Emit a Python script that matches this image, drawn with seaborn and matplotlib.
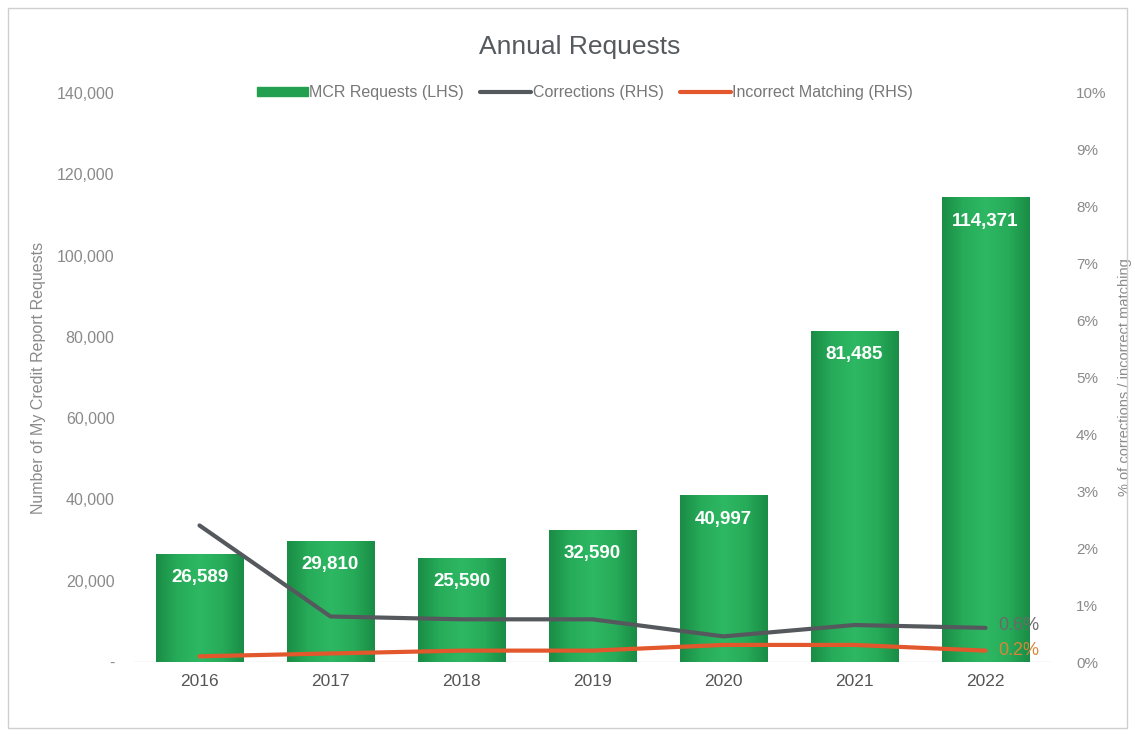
import numpy as np
import pandas as pd
import matplotlib
matplotlib.use("Agg")
import matplotlib.pyplot as plt
import seaborn as sns
from matplotlib.patches import Rectangle, Patch
from matplotlib.lines import Line2D
from matplotlib.colors import LinearSegmentedColormap

years = ["2016", "2017", "2018", "2019", "2020", "2021", "2022"]
requests = [26589, 29810, 25590, 32590, 40997, 81485, 114371]
corrections = [2.4, 0.8, 0.75, 0.75, 0.45, 0.65, 0.6]
incorrect = [0.1, 0.15, 0.2, 0.2, 0.3, 0.3, 0.2]
left_ticks = [0, 20000, 40000, 60000, 80000, 100000, 120000, 140000]
right_ticks = [0, 1, 2, 3, 4, 5, 6, 7, 8, 9, 10]

sns.set_theme(style="white")
plt.rcParams['font.family'] = ['Liberation Sans', 'DejaVu Sans']

tick_col = "#8a8a8a"
fig = plt.figure(figsize=(11.35, 7.36), dpi=100)
ax = fig.add_axes([134/1135, 1-662/736, (1051-134)/1135, (662-93)/736])

df = pd.DataFrame({"year": years, "requests": requests})
sns.barplot(data=df, x="year", y="requests", ax=ax, color="#22a050", width=0.67,
            saturation=1)

cmap = LinearSegmentedColormap.from_list("g", ["#1a8c45", "#27ac5a", "#2eb863", "#27ac5a", "#1a8c45"])
grad = np.linspace(0, 1, 256).reshape(1, -1)
for p in ax.patches:
    x0, y0 = p.get_x(), p.get_y()
    w, h = p.get_width(), p.get_height()
    im = ax.imshow(grad, cmap=cmap, extent=[x0, x0 + w, y0, y0 + h], aspect="auto", zorder=2)
    im.set_clip_path(p)
    p.set_facecolor("none")
    p.set_edgecolor("none")

ax.set_xlim(-0.5, len(years) - 0.5)
ax.set_ylim(0, 140000)
ax.set_yticks(left_ticks)
ax.set_yticklabels(["-" if v == 0 else f"{v:,}" for v in left_ticks])
ax.tick_params(axis="y", colors=tick_col, labelsize=11.5, length=0, pad=14)
ax.tick_params(axis="x", colors="#555555", labelsize=12.5, length=0, pad=9)
for lbl in ax.get_xticklabels():
    lbl.set_color("#555555")
ax.set_xlabel("")
ax.set_ylabel("Number of My Credit Report Requests", color=tick_col, fontsize=11.5, labelpad=8)
for s in ax.spines.values():
    s.set_visible(False)
ax.axhline(0, color="#d9d9d9", lw=1, zorder=1)

for i, v in enumerate(requests):
    ax.text(i, v - 3800, f"{v:,}", ha="center", va="top", color="white",
            fontsize=13.5, fontweight="bold", zorder=5)

ax2 = ax.twinx()
sns.lineplot(x=np.arange(len(years)), y=corrections, ax=ax2, color="#55595d", lw=3,
             label="Corrections (RHS)", legend=False)
sns.lineplot(x=np.arange(len(years)), y=incorrect, ax=ax2, color="#e2572c", lw=3,
             label="Incorrect Matching (RHS)", legend=False)
ax2.set_ylim(0, 10)
ax2.set_yticks(right_ticks)
ax2.set_yticklabels([f"{v}%" for v in right_ticks])
ax2.tick_params(axis="y", colors=tick_col, labelsize=11, length=0, pad=18)
ax2.set_ylabel("% of corrections / incorrect matching", color=tick_col, fontsize=10.5, labelpad=8)
for s in ax2.spines.values():
    s.set_visible(False)
ax2.set_xlim(-0.5, len(years) - 0.5)

n = len(years) - 1
ax2.text(n + 0.1, corrections[-1] + 0.05, f"{corrections[-1]:.1f}%", color="#6a6a6a",
         fontsize=13, va="center", ha="left")
ax2.text(n + 0.1, incorrect[-1], f"{incorrect[-1]:.1f}%", color="#d4873a",
         fontsize=13, va="center", ha="left")

handles = [Patch(color="#22a050"),
           Line2D([0], [0], color="#55595d", lw=3),
           Line2D([0], [0], color="#e2572c", lw=3)]
labels = ["MCR Requests (LHS)", "Corrections (RHS)", "Incorrect Matching (RHS)"]
leg = fig.legend(handles, labels, loc="center", bbox_to_anchor=(585/1135, 1-93/736), ncol=3,
                 frameon=False, fontsize=11.5, handlelength=3.2, handletextpad=0.1,
                 columnspacing=1.0, handleheight=0.5)
for t in leg.get_texts():
    t.set_color("#777777")

fig.text(580/1135, 1-47/736, "Annual Requests", ha="center", va="center", fontsize=19,
         color="#555a5f")

fig.patches.append(Rectangle((8/1135, 8/736), 1119/1135, 720/736, transform=fig.transFigure,
                             fill=False, edgecolor="#cfcfcf", lw=1))

fig.savefig("out.png", dpi=100)
